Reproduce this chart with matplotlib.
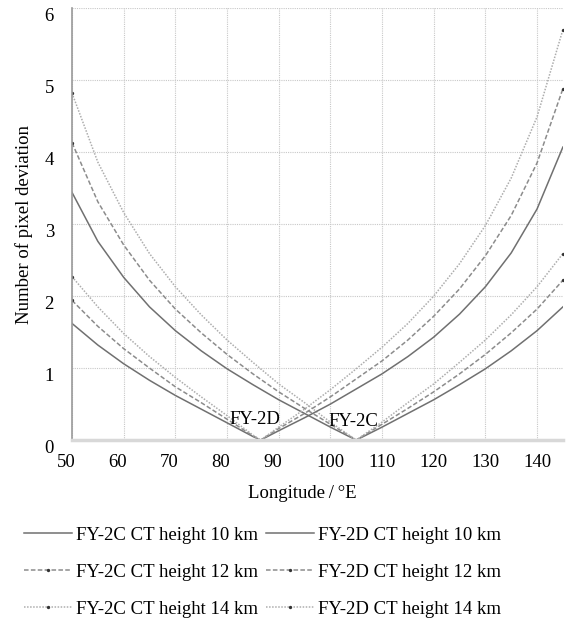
import matplotlib
matplotlib.use("Agg")
import matplotlib.pyplot as plt
from matplotlib.lines import Line2D
from matplotlib.transforms import ScaledTranslation

plt.rcParams['font.family'] = ['Liberation Serif', 'DejaVu Serif']

# Longitudes (deg E) sampled for each satellite's curves
lon_2c = [50, 55, 60, 65, 70, 75, 80, 85, 90, 95, 100, 105,
          110, 115, 120, 125, 130, 135, 140, 145]
lon_2d = [50, 55, 60, 65, 70, 75, 80, 85, 86.5, 90, 95, 100, 105,
          110, 115, 120, 125, 130, 135, 140, 145]

# Pixel deviation, FY-2C (sub-satellite point 105E)
fy2c_10 = [3.44, 2.76, 2.26, 1.85, 1.52, 1.24, 0.99, 0.77, 0.56, 0.37, 0.18, 0.0,
           0.18, 0.37, 0.56, 0.77, 0.99, 1.24, 1.52, 1.85]
fy2c_12 = [4.13, 3.31, 2.71, 2.22, 1.82, 1.49, 1.19, 0.92, 0.67, 0.44, 0.22, 0.0,
           0.22, 0.44, 0.67, 0.92, 1.19, 1.49, 1.82, 2.22]
fy2c_14 = [4.82, 3.86, 3.16, 2.59, 2.13, 1.74, 1.39, 1.08, 0.78, 0.52, 0.25, 0.0,
           0.25, 0.52, 0.78, 1.08, 1.39, 1.74, 2.13, 2.59]

# Pixel deviation, FY-2D (sub-satellite point 86.5E)
fy2d_10 = [1.62, 1.32, 1.06, 0.83, 0.62, 0.43, 0.24, 0.05, 0.0, 0.13, 0.31, 0.50,
           0.71, 0.92, 1.16, 1.43, 1.75, 2.13, 2.60, 3.21, 4.07]
fy2d_12 = [1.94, 1.58, 1.27, 1.00, 0.74, 0.52, 0.29, 0.06, 0.0, 0.16, 0.37, 0.60,
           0.85, 1.10, 1.39, 1.72, 2.10, 2.56, 3.12, 3.85, 4.88]
fy2d_14 = [2.27, 1.85, 1.48, 1.16, 0.87, 0.60, 0.34, 0.07, 0.0, 0.18, 0.43, 0.70,
           0.99, 1.29, 1.62, 2.00, 2.45, 2.98, 3.64, 4.49, 5.70]

x_ticks = [50, 60, 70, 80, 90, 100, 110, 120, 130, 140]
y_ticks = [0, 1, 2, 3, 4, 5, 6]

FS = 13.5

styles = {
    10: dict(color='#707070', linestyle='-', linewidth=1.1),
    12: dict(color='#8c8c8c', linestyle=(0, (3, 1.5)), linewidth=1.1,
             marker='o', markersize=2.4, markeredgewidth=0, markerfacecolor='#333333'),
    14: dict(color='#adadad', linestyle=(0, (1, 1)), linewidth=1.1,
             marker='o', markersize=2.4, markeredgewidth=0, markerfacecolor='#333333'),
}

fig = plt.figure(figsize=(5.68, 6.26), dpi=100)
ax = fig.add_axes([0.1268, 0.297, 0.8642, 0.690])

handles = []
labels = []
for sat, lons, series in [('FY-2C', lon_2c, [(10, fy2c_10), (12, fy2c_12), (14, fy2c_14)]),
                          ('FY-2D', lon_2d, [(10, fy2d_10), (12, fy2d_12), (14, fy2d_14)])]:
    for h, vals in series:
        st = dict(styles[h])
        if 'marker' in st:
            st['markevery'] = [0, len(lons) - 1]
        ax.plot(lons, vals, **st)
        handles.append(Line2D([], [], **styles[h]))
        labels.append(f'{sat} CT height {h} km')

ax.set_xlim(50, 145)
ax.set_ylim(0, 6)
ax.set_xticks(x_ticks)
ax.set_yticks(y_ticks)
ax.tick_params(length=0, labelsize=FS)
ax.tick_params(axis='x', pad=10)
ax.tick_params(axis='y', pad=13)
ax.grid(True, color='#c8c8c8', linestyle=(0, (1, 1)), linewidth=0.8)
for s in ['top', 'right']:
    ax.spines[s].set_visible(False)
ax.spines['left'].set_color('#9a9a9a')
ax.spines['left'].set_linewidth(1.2)
ax.spines['bottom'].set_color('#d8d8d8')
ax.spines['bottom'].set_linewidth(2.5)

# nudge tick labels
for val, lab in zip(x_ticks, ax.get_xticklabels()):
    if val < 100:
        lab.set_transform(lab.get_transform() + ScaledTranslation(-6 / 100, 0, fig.dpi_scale_trans))
for lab in ax.get_yticklabels():
    lab.set_transform(lab.get_transform() + ScaledTranslation(0, -6 / 100, fig.dpi_scale_trans))

ax.set_xlabel('Longitude\u2009/\u2009°E', fontsize=FS)
ax.xaxis.set_label_coords(0.469, -0.103)
ax.set_ylabel('Number of pixel deviation', fontsize=FS)
ax.yaxis.set_label_coords(-0.079, 0.5)

ax.text(85.4, 0.29, 'FY-2D', fontsize=FS, ha='center', va='center')
ax.text(104.4, 0.26, 'FY-2C', fontsize=FS, ha='center', va='center')

fig.legend(handles, labels, loc='center', bbox_to_anchor=(0.462, 0.086),
           ncol=2, frameon=False, fontsize=FS, handlelength=2.6,
           handletextpad=0.2, columnspacing=0.4, labelspacing=1.05)

fig.savefig('out.png', dpi=100)
